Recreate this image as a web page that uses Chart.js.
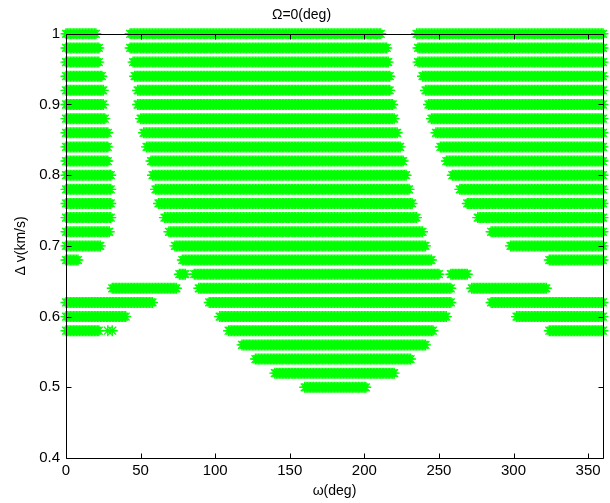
<!DOCTYPE html>
<html>
<head>
<meta charset="utf-8">
<script src="https://cdn.jsdelivr.net/npm/chart.js@4.4.0/dist/chart.umd.min.js"></script>
<style>
  html, body { margin: 0; padding: 0; background: #fff; }
  #wrap { width: 610px; height: 503px; }
</style>
</head>
<body>
<div id="wrap"><canvas id="c" width="610" height="503"></canvas></div>
<script>
// delta-v levels (km/s), one row of points each
const dvRows = [1.00, 0.98, 0.96, 0.94, 0.92, 0.90, 0.88, 0.86, 0.84, 0.82, 0.80, 0.78, 0.76,
                0.74, 0.72, 0.70, 0.68, 0.66, 0.64, 0.62, 0.60, 0.58, 0.56, 0.54, 0.52, 0.50];

// omega ranges (deg) that are feasible on each row
const omegaRanges = [
  [[0, 20], [43, 211], [235, 360]],
  [[0, 22], [43, 215], [236, 360]],
  [[0, 22], [45, 216], [236, 360]],
  [[0, 24], [46, 217], [239, 360]],
  [[0, 25], [48, 217], [241, 360]],
  [[0, 25], [48, 219], [243, 360]],
  [[0, 26], [50, 220], [245, 360]],
  [[0, 28], [52, 222], [248, 360]],
  [[0, 28], [54, 224], [251, 360]],
  [[0, 28], [57, 226], [255, 360]],
  [[0, 30], [58, 228], [259, 360]],
  [[0, 30], [60, 230], [264, 360]],
  [[0, 30], [62, 232], [269, 360]],
  [[0, 30], [66, 235], [276, 360]],
  [[0, 29], [69, 239], [285, 360]],
  [[0, 23], [73, 241], [298, 360]],
  [[0, 8], [78, 245], [324, 360]],
  [[76, 80], [86, 250], [258, 269]],
  [[31, 74], [89, 258], [272, 322]],
  [[0, 58], [96, 258], [285, 360]],
  [[0, 40], [103, 255], [302, 360]],
  [[0, 22], [28, 28], [31, 31], [109, 246], [324, 360]],
  [[118, 241]],
  [[127, 231]],
  [[140, 220]],
  [[160, 201]]
];

const xTicks = [0, 50, 100, 150, 200, 250, 300, 350];
const yTicks = [0.4, 0.5, 0.6, 0.7, 0.8, 0.9, 1];

// scan grid is 1 deg
let points = []
dvRows.forEach((dv, i) => {
  omegaRanges[i].forEach(([a, b]) => {
    for (let w = a; w <= b; w++) points.push({x: w, y: dv})
  })
})

const tickFont = {family: "'Liberation Sans', Arial, sans-serif", size: 15}
const labelFont = {family: "'Liberation Sans', Arial, sans-serif", size: 14}

// matlab style box with inward ticks, drawn over the markers
const frame = {
  id: 'frame',
  afterDatasetsDraw(chart) {
    const {ctx, chartArea: a, scales: {x, y}} = chart
    const L = Math.round(a.left) + 0.5, R = Math.round(a.right) + 0.5
    const T = Math.round(a.top) + 0.5, B = Math.round(a.bottom) + 0.5
    ctx.save()
    ctx.strokeStyle = '#000'
    ctx.lineWidth = 1
    ctx.beginPath()
    ctx.rect(L, T, R - L, B - T)
    xTicks.forEach(v => {
      const px = Math.round(x.getPixelForValue(v)) + 0.5
      ctx.moveTo(px, B); ctx.lineTo(px, B - 5)
      ctx.moveTo(px, T); ctx.lineTo(px, T + 5)
    })
    yTicks.forEach(v => {
      const py = Math.round(y.getPixelForValue(v)) + 0.5
      ctx.moveTo(L, py); ctx.lineTo(L + 5, py)
      ctx.moveTo(R, py); ctx.lineTo(R - 5, py)
    })
    ctx.stroke()
    ctx.restore()
  }
}

new Chart(document.getElementById('c').getContext('2d'), {
  type: 'scatter',
  data: {
    datasets: [{
      data: points,
      pointStyle: 'star',
      pointRadius: 5.5,
      borderColor: '#00ff00',
      backgroundColor: '#00ff00',
      borderWidth: 1.4,
      clip: false
    }]
  },
  options: {
    responsive: false,
    animation: false,
    events: [],
    layout: {padding: {left: 0, right: 7, top: 0, bottom: 0}},
    plugins: {
      legend: {display: false},
      tooltip: {enabled: false},
      title: {
        display: true,
        text: 'Ω=0(deg)',
        color: '#000',
        font: {...labelFont, weight: 'normal'},
        padding: {top: 7, bottom: 10}
      }
    },
    scales: {
      x: {
        type: 'linear',
        min: 0,
        max: 360,
        afterBuildTicks: s => { s.ticks = xTicks.map(v => ({value: v})) },
        afterFit: s => { s.height = 45 },
        grid: {display: false, drawTicks: false},
        border: {display: false},
        ticks: {color: '#000', font: tickFont, padding: 4, maxRotation: 0, autoSkip: false},
        title: {display: true, text: 'ω(deg)', color: '#000', font: labelFont, padding: {top: 0, bottom: 3}}
      },
      y: {
        type: 'linear',
        min: 0.4,
        max: 1,
        afterBuildTicks: s => { s.ticks = yTicks.map(v => ({value: v})) },
        afterFit: s => { s.width = 66 },
        grid: {display: false, drawTicks: false},
        border: {display: false},
        ticks: {color: '#000', font: tickFont, padding: 6, callback: v => String(+v.toFixed(1))},
        title: {display: true, text: 'Δ v(km/s)', color: '#000', font: labelFont, padding: {top: 13, bottom: 0}}
      }
    }
  },
  plugins: [frame]
});
</script>
</body>
</html>
